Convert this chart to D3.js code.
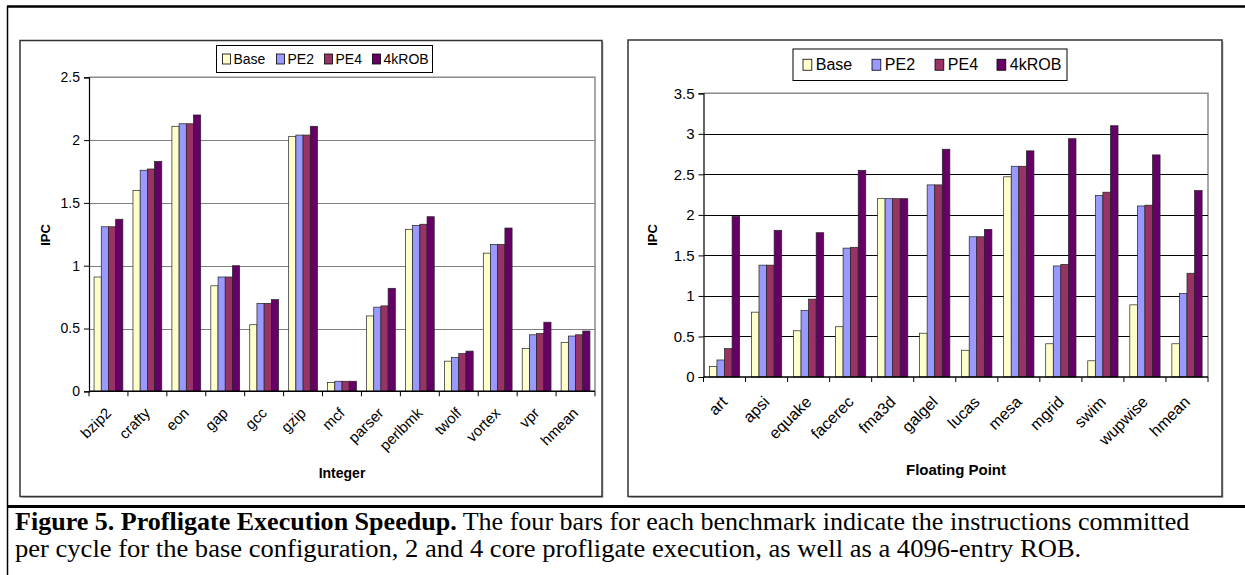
<!DOCTYPE html>
<html>
<head>
<meta charset="utf-8">
<script src="https://cdn.jsdelivr.net/npm/d3@7"></script>
<style>
  body { margin: 0; background: #fff; }
  svg { display: block; }
</style>
</head>
<body>
<svg id="fig" width="1245" height="575"></svg>
<script>
// ---- data -------------------------------------------------------------
const seriesNames  = ["Base", "PE2", "PE4", "4kROB"];
const seriesColors = ["#FFFFCC", "#9999FF", "#993366", "#660066"];

const intBenchmarks = ["bzip2", "crafty", "eon", "gap", "gcc", "gzip", "mcf",
                       "parser", "perlbmk", "twolf", "vortex", "vpr", "hmean"];
const intBase = [0.91, 1.60, 2.11, 0.84, 0.53, 2.03, 0.07, 0.60, 1.29, 0.24, 1.10, 0.34, 0.39];
const intPE2  = [1.31, 1.76, 2.13, 0.91, 0.70, 2.04, 0.08, 0.67, 1.32, 0.27, 1.17, 0.45, 0.44];
const intPE4  = [1.31, 1.77, 2.13, 0.91, 0.70, 2.04, 0.08, 0.68, 1.33, 0.30, 1.17, 0.46, 0.45];
const intROB  = [1.37, 1.83, 2.20, 1.00, 0.73, 2.11, 0.08, 0.82, 1.39, 0.32, 1.30, 0.55, 0.48];
const intTicks = [0, 0.5, 1, 1.5, 2, 2.5];

const fpBenchmarks = ["art", "apsi", "equake", "facerec", "fma3d", "galgel",
                      "lucas", "mesa", "mgrid", "swim", "wupwise", "hmean"];
const fpBase = [0.13, 0.80, 0.57, 0.62, 2.20, 0.54, 0.33, 2.47, 0.41, 0.20, 0.89, 0.41];
const fpPE2  = [0.21, 1.38, 0.82, 1.59, 2.20, 2.37, 1.73, 2.60, 1.37, 2.24, 2.11, 1.03];
const fpPE4  = [0.35, 1.38, 0.96, 1.60, 2.20, 2.37, 1.73, 2.60, 1.39, 2.28, 2.12, 1.28];
const fpROB  = [1.98, 1.81, 1.78, 2.55, 2.20, 2.81, 1.82, 2.79, 2.94, 3.10, 2.74, 2.30];
const fpTicks = [0, 0.5, 1, 1.5, 2, 2.5, 3, 3.5];

const captionBold = "Figure 5. Profligate Execution Speedup.";
const captionLine1 = " The four bars for each benchmark indicate the instructions committed";
const captionLine2 = "per cycle for the base configuration, 2 and 4 core profligate execution, as well as a 4096-entry ROB.";

// ---- drawing ----------------------------------------------------------
const svg = d3.select("#fig");
const SANS = "Arial, 'Liberation Sans', Helvetica, sans-serif";
const SERIF = "'Liberation Serif', 'Times New Roman', Times, serif";

// outer figure frame
svg.append("line").attr("x1", 7).attr("x2", 1245).attr("y1", 6.5).attr("y2", 6.5)
   .attr("stroke", "#000").attr("stroke-width", 2.5);
svg.append("line").attr("x1", 7.5).attr("x2", 7.5).attr("y1", 6).attr("y2", 575)
   .attr("stroke", "#000").attr("stroke-width", 1.5);
svg.append("line").attr("x1", 7).attr("x2", 1245).attr("y1", 506.5).attr("y2", 506.5)
   .attr("stroke", "#000").attr("stroke-width", 3);

function drawChart(cfg) {
  const g = svg.append("g");
  const rows = cfg.categories.map((c, i) => ({
    name: c,
    values: cfg.series.map((s, j) => ({ key: seriesNames[j], value: s[i], color: seriesColors[j] }))
  }));

  // chart area frame
  g.append("rect")
    .attr("x", cfg.panel.x + 1.5).attr("y", cfg.panel.y + 1.5)
    .attr("width", cfg.panel.w).attr("height", cfg.panel.h)
    .attr("fill", "#bbb");
  g.append("rect")
    .attr("x", cfg.panel.x).attr("y", cfg.panel.y)
    .attr("width", cfg.panel.w).attr("height", cfg.panel.h)
    .attr("fill", "#fff").attr("stroke", "#333").attr("stroke-width", 1.5);

  const x = d3.scaleBand().domain(cfg.categories)
    .range([cfg.plot.x0, cfg.plot.x1]).paddingInner(0).paddingOuter(0);
  const inner = d3.scaleBand().domain(seriesNames)
    .range([x.bandwidth() * cfg.groupPad, x.bandwidth() * (1 - cfg.groupPad)]);
  const y = d3.scaleLinear().domain([0, d3.max(cfg.ticks)])
    .range([cfg.plot.y0, cfg.plot.y1]);

  // plot area border (top and right)
  g.append("path")
    .attr("d", `M${cfg.plot.x0},${cfg.plot.y1}H${cfg.plot.x1}V${cfg.plot.y0}`)
    .attr("fill", "none").attr("stroke", "#8a8a8a").attr("stroke-width", 1.5);

  // gridlines
  g.append("g").selectAll("line")
    .data(cfg.ticks.filter(t => t > 0 && t < d3.max(cfg.ticks)))
    .join("line")
    .attr("x1", cfg.plot.x0).attr("x2", cfg.plot.x1)
    .attr("y1", d => Math.round(y(d)) + 0.5).attr("y2", d => Math.round(y(d)) + 0.5)
    .attr("stroke", cfg.gridColor).attr("stroke-width", 1);

  // bars
  g.append("g").selectAll("g")
    .data(rows).join("g")
    .attr("transform", d => `translate(${x(d.name)},0)`)
    .selectAll("rect")
    .data(d => d.values).join("rect")
    .attr("x", d => inner(d.key))
    .attr("width", inner.bandwidth())
    .attr("y", d => y(d.value))
    .attr("height", d => y(0) - y(d.value))
    .attr("fill", d => d.color)
    .attr("stroke", "#222").attr("stroke-width", 0.7);

  // y axis
  const yAxis = d3.axisLeft(y).tickValues(cfg.ticks).tickSize(5).tickPadding(4)
    .tickFormat(d3.format("~g"));
  const ya = g.append("g").attr("transform", `translate(${cfg.plot.x0},0)`).call(yAxis);
  ya.select(".domain").attr("stroke", "#000").attr("stroke-width", 1.2);
  ya.selectAll(".tick line").attr("stroke", "#000");
  ya.selectAll("text").attr("font-family", SANS).attr("font-size", cfg.tickFont).attr("fill", "#000");

  // x axis: tick marks between categories
  const xa = g.append("g").attr("transform", `translate(0,${cfg.plot.y0})`);
  xa.append("line").attr("x1", cfg.plot.x0).attr("x2", cfg.plot.x1)
    .attr("stroke", "#000").attr("stroke-width", 1.5);
  const bounds = cfg.categories.map(c => x(c)).concat([cfg.plot.x1]);
  xa.selectAll("line.sep").data(bounds).join("line").attr("class", "sep")
    .attr("x1", d => d).attr("x2", d => d).attr("y1", 0).attr("y2", 5)
    .attr("stroke", "#000");
  xa.selectAll("text.cat").data(cfg.categories).join("text").attr("class", "cat")
    .attr("transform", d => `translate(${x(d) + x.bandwidth() / 2 + cfg.labelDx},${cfg.labelDy}) rotate(-45)`)
    .attr("text-anchor", "end")
    .attr("dy", "0.35em")
    .attr("font-family", SANS).attr("font-size", cfg.catFont).attr("fill", "#000")
    .text(d => d);

  // axis titles
  g.append("text")
    .attr("transform", `translate(${cfg.yTitle.x},${cfg.yTitle.y}) rotate(-90)`)
    .attr("text-anchor", "middle").attr("dy", "0.35em")
    .attr("font-family", SANS).attr("font-weight", "bold").attr("font-size", 13)
    .text("IPC");
  g.append("text")
    .attr("x", cfg.xTitle.x).attr("y", cfg.xTitle.y)
    .attr("text-anchor", "middle").attr("dy", "0.35em")
    .attr("font-family", SANS).attr("font-weight", "bold").attr("font-size", cfg.xTitle.size)
    .text(cfg.xTitle.text);

  // legend
  const L = cfg.legend;
  const lg = g.append("g");
  lg.append("rect").attr("x", L.x).attr("y", L.y).attr("width", L.w).attr("height", L.h)
    .attr("fill", "#fff").attr("stroke", "#000").attr("stroke-width", 1);
  const items = lg.selectAll("g").data(seriesNames).join("g")
    .attr("transform", (d, i) => `translate(${L.x + L.offsets[i]},${L.y + L.h / 2})`);
  items.append("rect").attr("x", 0).attr("y", -L.sq / 2).attr("width", L.sq * 0.8).attr("height", L.sq)
    .attr("fill", (d, i) => seriesColors[i]).attr("stroke", "#000").attr("stroke-width", 0.8);
  items.append("text").attr("x", L.sq * 0.8 + L.gap).attr("dy", "0.35em")
    .attr("font-family", SANS).attr("font-size", L.font).attr("fill", "#000")
    .text(d => d);
}

drawChart({
  categories: intBenchmarks,
  series: [intBase, intPE2, intPE4, intROB],
  ticks: intTicks,
  panel: { x: 20, y: 40.5, w: 582, h: 456 },
  plot: { x0: 89, x1: 595, y0: 391.3, y1: 77.3 },
  groupPad: 0.13,
  gridColor: "#808080",
  tickFont: 14, catFont: 15,
  labelDx: 0, labelDy: 19,
  yTitle: { x: 45, y: 235 },
  xTitle: { x: 342, y: 473, text: "Integer", size: 14 },
  legend: { x: 216.5, y: 45.5, w: 216, h: 27, sq: 10, gap: 3, font: 14,
            offsets: [6, 60, 108, 156] }
});

drawChart({
  categories: fpBenchmarks,
  series: [fpBase, fpPE2, fpPE4, fpROB],
  ticks: fpTicks,
  panel: { x: 628, y: 40, w: 594, h: 456.5 },
  plot: { x0: 703.5, x1: 1208, y0: 377, y1: 93.3 },
  groupPad: 0.14,
  gridColor: "#000",
  tickFont: 15, catFont: 16,
  labelDx: 0, labelDy: 22,
  yTitle: { x: 652, y: 235 },
  xTitle: { x: 956, y: 470, text: "Floating Point", size: 15 },
  legend: { x: 793, y: 49, w: 274, h: 31.5, sq: 11, gap: 4, font: 16,
            offsets: [10, 79, 142, 204] }
});

// caption
const cap = svg.append("g").attr("font-family", SERIF).attr("font-size", 25).attr("fill", "#000");
const t1 = cap.append("text").attr("x", 15).attr("y", 530);
t1.append("tspan").attr("font-weight", "bold").text(captionBold);
t1.append("tspan").text(captionLine1);
const t2 = cap.append("text").attr("x", 15).attr("y", 557).text(captionLine2);
// stretch each caption line to its printed width
[[t1, 1175], [t2, 1067]].forEach(([t, w]) => {
  const n = t.node().getComputedTextLength();
  const s = w / n;
  t.attr("transform", `translate(${15 - 15 * s},0) scale(${s},1)`);
});
</script>
</body>
</html>
